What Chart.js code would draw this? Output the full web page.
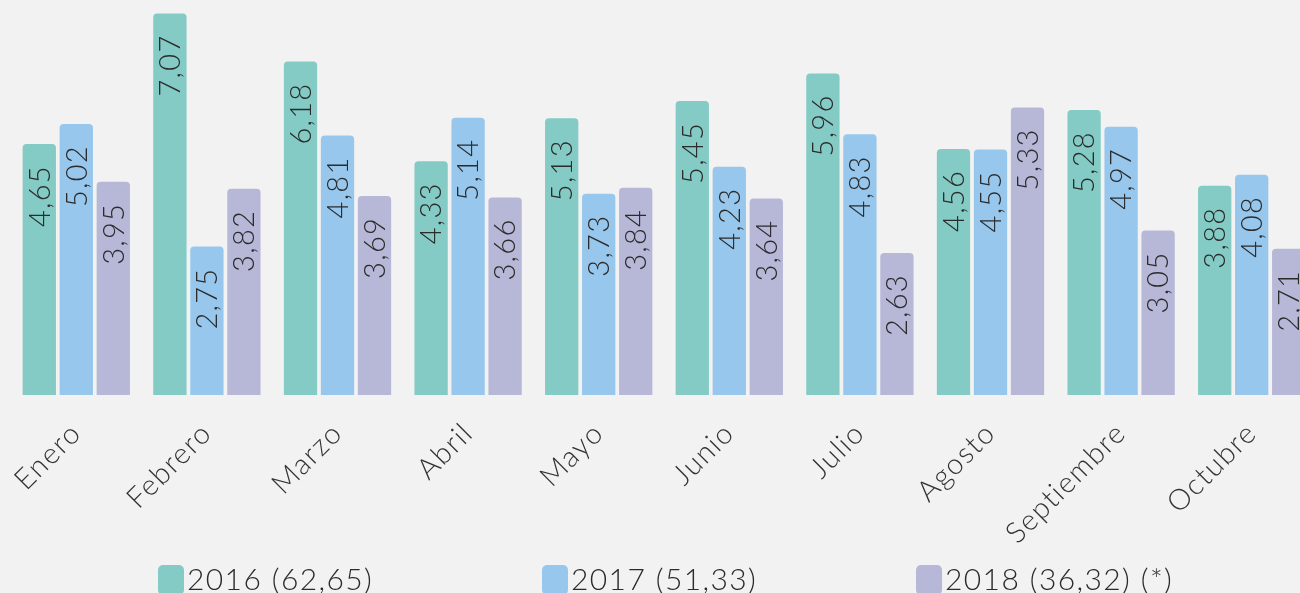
<!DOCTYPE html>
<html><head><meta charset="utf-8">
<script src="https://cdn.jsdelivr.net/npm/chart.js@4/dist/chart.umd.min.js"></script>
<style>
html,body{margin:0;padding:0;background:#f2f2f2;overflow:hidden;}
#wrap{position:relative;width:1320px;height:610px;}
</style></head><body>
<div id="wrap"><canvas id="c"></canvas></div>
<script>
const categories = ['Enero','Febrero','Marzo','Abril','Mayo','Junio','Julio','Agosto','Septiembre','Octubre'];
const values2016 = [4.65,7.07,6.18,4.33,5.13,5.45,5.96,4.56,5.28,3.88];
const values2017 = [5.02,2.75,4.81,5.14,3.73,4.23,4.83,4.55,4.97,4.08];
const values2018 = [3.95,3.82,3.69,3.66,3.84,3.64,2.63,5.33,3.05,2.71];
const seriesLabels = ['2016 (62,65)','2017 (51,33)','2018 (36,32) (*)'];
const seriesColors = ['#83cbc4','#97c7ec','#b7b7d8'];

const FONT = 'Lato, "Open Sans", sans-serif';
const fmt = v => v.toFixed(2).replace('.', ',');

const spacing = {
  id: 'spacing',
  beforeDraw(chart) { chart.ctx.letterSpacing = '1.4px'; }
};

const valueLabels = {
  id: 'valueLabels',
  afterDatasetsDraw(chart) {
    const ctx = chart.ctx;
    ctx.save();
    ctx.letterSpacing = '1.3px';
    ctx.font = '300 29px ' + FONT;
    ctx.fillStyle = '#2b2b2b';
    ctx.textAlign = 'right';
    ctx.textBaseline = 'middle';
    chart.data.datasets.forEach((ds, i) => {
      chart.getDatasetMeta(i).data.forEach((bar, j) => {
        ctx.save();
        ctx.translate(bar.x + 1, bar.y + 21);
        ctx.rotate(-Math.PI / 2);
        ctx.fillText(fmt(ds.data[j]), 0, 0);
        ctx.restore();
      });
    });
    ctx.restore();
  }
};

const legendXs = [158, 542, 916];
const customLegend = {
  id: 'customLegend',
  afterDraw(chart) {
    const ctx = chart.ctx;
    ctx.save();
    ctx.letterSpacing = '1.4px';
    ctx.font = '300 30px ' + FONT;
    ctx.textAlign = 'left';
    ctx.textBaseline = 'middle';
    chart.data.datasets.forEach((ds, i) => {
      const x = legendXs[i];
      ctx.fillStyle = ds.backgroundColor;
      ctx.beginPath();
      ctx.roundRect(x, 565, 26, 30, 5);
      ctx.fill();
      ctx.fillStyle = '#2b2b2b';
      ctx.fillText(ds.label, x + 29, 580);
    });
    ctx.restore();
  }
};

const mk = (i, data) => ({
  label: seriesLabels[i],
  data: data,
  backgroundColor: seriesColors[i],
  borderRadius: 4,
  categoryPercentage: 0.85,
  barPercentage: 0.9
});

new Chart(document.getElementById('c'), {
  type: 'bar',
  data: {
    labels: categories,
    datasets: [mk(0, values2016), mk(1, values2017), mk(2, values2018)]
  },
  options: {
    responsive: true,
    maintainAspectRatio: false,
    animation: false,
    devicePixelRatio: 1,
    layout: { padding: { left: 11, right: 3, top: 0, bottom: 55 } },
    plugins: { legend: { display: false }, tooltip: { enabled: false } },
    scales: {
      x: {
        grid: { display: false },
        border: { display: false },
        ticks: {
          font: { family: FONT, size: 29, weight: 300 },
          color: '#333333',
          padding: 13,
          minRotation: 45,
          maxRotation: 45,
          autoSkip: false
        },
        afterFit(axis) { axis.height = 160; }
      },
      y: { display: false, min: 0, max: 7.32 }
    }
  },
  plugins: [spacing, valueLabels, customLegend]
});
</script>
</body></html>
